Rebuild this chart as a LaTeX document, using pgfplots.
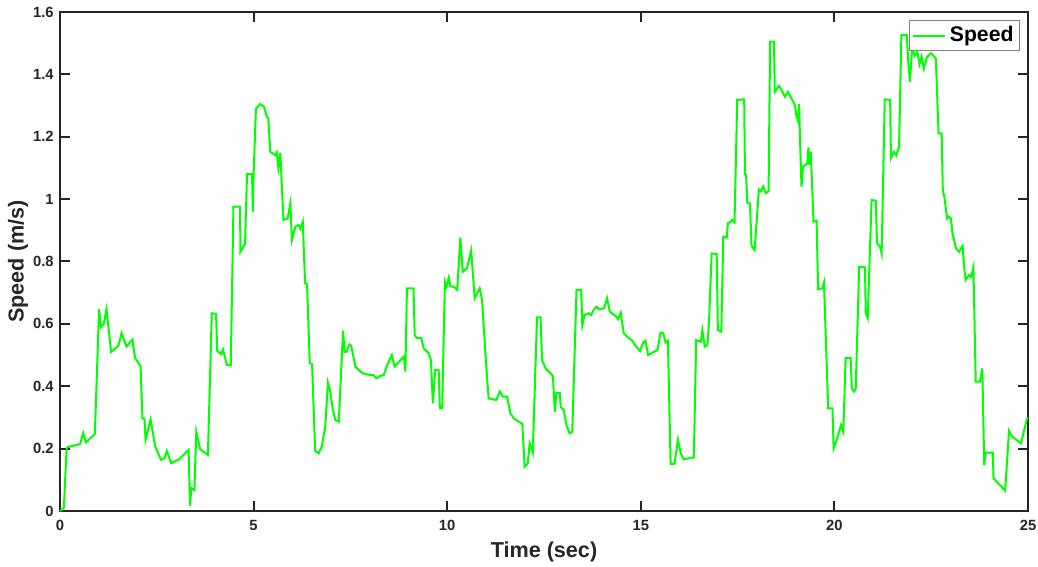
\documentclass[border=0pt]{standalone}
\usepackage{pgfplots}
\pgfplotsset{compat=1.18}
\usepackage{fontspec}
\setmainfont{Liberation Sans}
\definecolor{axgray}{RGB}{38,38,38}
\definecolor{speedgreen}{RGB}{0,255,0}

\begin{document}
\begin{tikzpicture}
\begin{axis}[
    at={(0,0)}, anchor=south west,
    width=484pt, height=249.5pt, scale only axis,
    xmin=0, xmax=25, ymin=0, ymax=1.6,
    xtick={0,5,...,25},
    ytick={0,0.2,...,1.6},
    yticklabels={0,0.2,0.4,0.6,0.8,1,1.2,1.4,1.6},
    tick align=inside,
    major tick length=5pt,
    axis line style={axgray, line width=1pt},
    every tick/.style={axgray, line width=1pt},
    tick label style={font=\bfseries\fontsize{7.4}{8}\selectfont, text=axgray, inner sep=0pt},
    xticklabel style={anchor=base, yshift=-9.5pt},
    yticklabel style={anchor=east, xshift=-3pt},
    /pgf/number format/assume math mode=true,
    xlabel={Time (sec)},
    ylabel={Speed (m/s)},
    label style={font=\bfseries\fontsize{10.8}{12}\selectfont, text=axgray, inner sep=0pt},
    xlabel style={at={(axis description cs:0.5,0)}, anchor=base, yshift=-23pt},
    ylabel style={at={(axis description cs:0,0.5)}, anchor=center, yshift=21pt},
    legend style={at={(1,1)}, anchor=north east, xshift=-4pt, yshift=-4pt,
        draw=gray, line width=0.5pt, inner sep=1pt,
        font=\bfseries\fontsize{10.6}{12}\selectfont, text=black},
    legend cell align=left,
    legend image code/.code={\draw[#1] (0pt,0pt) -- (16pt,0pt);},
]
\addplot[speedgreen, line width=1pt] coordinates {
(0,0) (0.1,0.01) (0.17,0.2) (0.2,0.205)
(0.52,0.215) (0.6,0.25) (0.67,0.22) (0.9,0.247)
(1.01,0.647) (1.06,0.59) (1.13,0.60) (1.20,0.647) (1.32,0.51) (1.51,0.53) (1.59,0.57) (1.72,0.527) (1.87,0.55) (1.94,0.49) (2.08,0.465) (2.13,0.297) (2.18,0.297) (2.21,0.228) (2.34,0.294) (2.46,0.206) (2.61,0.164) (2.70,0.169) (2.76,0.193) (2.87,0.153) (3.08,0.166) (3.32,0.196) (3.36,0.016) (3.39,0.073) (3.47,0.067) (3.52,0.254) (3.62,0.198) (3.82,0.18) (3.92,0.634) (4.03,0.632) (4.06,0.514) (4.16,0.503) (4.21,0.518) (4.31,0.468) (4.41,0.468)
(4.48,0.976) (4.65,0.976) (4.66,0.831) (4.74,0.847) (4.78,0.858) (4.83,1.08) (4.96,1.08) (4.98,0.96) (5.00,1.08) (5.06,1.29) (5.17,1.305) (5.27,1.296) (5.34,1.264) (5.38,1.26) (5.43,1.152) (5.56,1.141) (5.60,1.15) (5.64,1.10) (5.69,1.149) (5.77,0.933) (5.88,0.938) (5.95,0.987) (5.99,0.869) (6.08,0.912) (6.16,0.917) (6.21,0.905) (6.27,0.928) (6.33,0.73) (6.38,0.728) (6.45,0.474) (6.51,0.471) (6.59,0.193) (6.68,0.185) (6.76,0.206) (6.85,0.27) (6.92,0.411) (6.98,0.383) (7.04,0.329) (7.11,0.292) (7.20,0.286) (7.31,0.578) (7.35,0.51) (7.40,0.51) (7.47,0.534) (7.52,0.53) (7.63,0.463) (7.76,0.447) (7.84,0.441) (7.93,0.438) (8.01,0.436) (8.10,0.436) (8.17,0.425) (8.27,0.433) (8.36,0.436) (8.45,0.468) (8.57,0.5) (8.64,0.463) (8.88,0.495) (8.92,0.447) (8.96,0.714) (9.13,0.714) (9.16,0.564) (9.22,0.554) (9.33,0.554) (9.39,0.522) (9.52,0.506) (9.58,0.484) (9.63,0.345) (9.69,0.452) (9.78,0.452) (9.81,0.329) (9.87,0.329) (9.94,0.735) (9.98,0.719) (10.04,0.749) (10.08,0.72) (10.17,0.719) (10.26,0.709) (10.34,0.877) (10.40,0.767) (10.51,0.778) (10.62,0.835) (10.71,0.682) (10.84,0.714) (10.90,0.676) (11.01,0.463) (11.07,0.361) (11.27,0.356) (11.36,0.383) (11.44,0.367) (11.55,0.367) (11.63,0.313) (11.72,0.297) (11.94,0.279) (12.0,0.142) (12.08,0.153) (12.13,0.217) (12.21,0.187) (12.32,0.621) (12.41,0.621) (12.45,0.484) (12.54,0.457) (12.67,0.441) (12.73,0.433) (12.78,0.318) (12.82,0.379) (12.91,0.379) (12.93,0.334) (13.01,0.324) (13.08,0.276) (13.16,0.249) (13.23,0.254) (13.34,0.709) (13.46,0.709) (13.49,0.596) (13.55,0.628) (13.66,0.634) (13.72,0.628) (13.79,0.647) (13.86,0.655) (13.92,0.647) (14.05,0.65) (14.13,0.682) (14.20,0.639) (14.35,0.625) (14.41,0.615) (14.48,0.636) (14.56,0.57) (14.69,0.554) (14.78,0.546) (14.87,0.529) (14.98,0.513) (15.06,0.54) (15.12,0.546) (15.19,0.50) (15.30,0.508) (15.43,0.516) (15.51,0.572) (15.58,0.57) (15.64,0.54) (15.70,0.546) (15.77,0.151) (15.87,0.151) (15.96,0.228) (16.03,0.185) (16.11,0.166) (16.37,0.172) (16.43,0.548) (16.55,0.543) (16.59,0.58) (16.65,0.527) (16.72,0.532) (16.76,0.602) (16.83,0.826) (16.96,0.824) (16.99,0.58) (17.08,0.575) (17.13,0.88) (17.22,0.877) (17.25,0.924) (17.30,0.925) (17.36,0.933) (17.42,0.925) (17.49,1.318) (17.67,1.32) (17.69,1.08) (17.72,1.078) (17.75,0.988) (17.82,0.986) (17.86,0.85) (17.94,0.837) (18.05,1.031) (18.10,1.025) (18.16,1.04) (18.23,1.019) (18.30,1.025) (18.34,1.505) (18.44,1.505) (18.46,1.344) (18.57,1.363) (18.66,1.344) (18.72,1.328) (18.80,1.344) (18.89,1.323) (18.98,1.302) (19.02,1.266) (19.06,1.251) (19.09,1.305) (19.11,1.2) (19.15,1.04) (19.19,1.104) (19.30,1.114) (19.33,1.166) (19.36,1.11) (19.39,1.152) (19.46,0.928) (19.54,0.931) (19.58,0.711) (19.69,0.714) (19.73,0.732) (19.84,0.329) (19.95,0.329) (19.98,0.201) (20.06,0.228) (20.17,0.276) (20.23,0.254) (20.29,0.49) (20.42,0.49) (20.45,0.393) (20.51,0.383) (20.55,0.39) (20.64,0.783) (20.79,0.781) (20.81,0.634) (20.86,0.618) (20.96,0.997) (21.07,0.995) (21.10,0.858) (21.18,0.847) (21.22,0.826) (21.30,1.32) (21.44,1.318) (21.46,1.131) (21.54,1.152) (21.60,1.14) (21.67,1.168) (21.73,1.526) (21.87,1.526) (21.91,1.435) (21.95,1.376) (22.01,1.488) (22.07,1.46) (22.14,1.472) (22.20,1.433) (22.25,1.457) (22.31,1.419) (22.39,1.455) (22.49,1.468) (22.58,1.457) (22.62,1.45) (22.69,1.211) (22.77,1.211) (22.80,1.027) (22.84,1.008) (22.91,0.938) (22.95,0.944) (23.01,0.938) (23.05,0.89) (23.14,0.842) (23.22,0.831) (23.31,0.85) (23.35,0.783) (23.39,0.741) (23.48,0.757) (23.53,0.75) (23.59,0.781) (23.65,0.415) (23.76,0.415) (23.82,0.457) (23.87,0.147) (23.91,0.187) (24.09,0.187) (24.11,0.105) (24.41,0.065) (24.51,0.257) (24.58,0.24) (24.82,0.217) (24.97,0.294) (25.0,0.30)
};
\legend{Speed}
\end{axis}
\path[use as bounding box] (-30pt,-28pt) rectangle (489pt,255.5pt);
\end{tikzpicture}
\end{document}
